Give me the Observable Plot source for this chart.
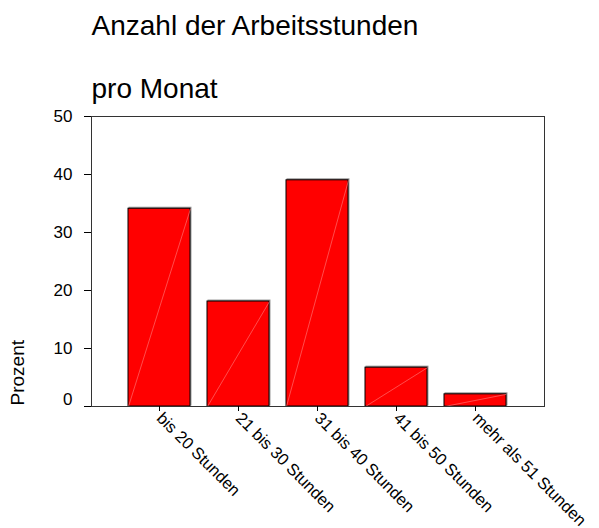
<!DOCTYPE html>
<html>
<head>
<meta charset="utf-8">
<script src="https://cdn.jsdelivr.net/npm/d3@7"></script>
<script src="https://cdn.jsdelivr.net/npm/@observablehq/plot@0.6"></script>
<style>
  html, body { margin: 0; padding: 0; background: #fff; }
  #chart svg { font-family: "Liberation Sans", Arial, sans-serif; }
</style>
</head>
<body>
<div id="chart"></div>
<script>
const categories = ["bis 20 Stunden", "21 bis 30 Stunden", "31 bis 40 Stunden", "41 bis 50 Stunden", "mehr als 51 Stunden"];
const percents = [34.1, 18.1, 39.0, 6.7, 2.1];
const yTicks = [10, 20, 30, 40, 50];
const yZeroTick = [0];
const titleLines = ["Anzahl der Arbeitsstunden", "pro Monat"];
const yLabel = "Prozent";

const data = categories.map((c, i) => ({category: c, value: percents[i]}));

const diagonal = (index, scales, values, dims, ctx, next) => {
  const bw = scales.x.bandwidth ? scales.x.bandwidth() : 0;
  const x1 = Float64Array.from(values.x1, v => v - bw / 2);
  const x2 = Float64Array.from(values.x2, v => v + bw / 2);
  return next(index, scales, {...values, x1, x2}, dims, ctx);
};

const chart = Plot.plot({
  width: 599,
  height: 528,
  marginLeft: 91,
  marginRight: 55,
  marginTop: 116,
  marginBottom: 122,
  style: {fontFamily: "'Liberation Sans', Arial, sans-serif", fontSize: "17px", color: "#000", background: "#fff"},
  x: {domain: categories, paddingInner: 0.21, paddingOuter: 0.4425, label: null},
  y: {domain: [0, 50], label: null},
  marks: [
    Plot.barY(data, {x: "category", y: "value", fill: "#9a9a9a", stroke: "#9a9a9a", dx: 1, dy: -1}),
    Plot.barY(data, {x: "category", y: "value", fill: "#ff0000", stroke: "#000", strokeWidth: 1}),
    Plot.link(data, {x1: "category", x2: "category", y1: 0, y2: "value", stroke: "#ff8080", strokeWidth: 0.6, render: diagonal}),
    Plot.frame({stroke: "#333"}),
    Plot.axisY(yTicks, {tickSize: 7, tickPadding: 12, fontSize: 17, label: null}),
    Plot.axisY(yZeroTick, {tickSize: 7, tickPadding: 12, fontSize: 17, label: null, text: null}),
    Plot.text(yZeroTick, {y: d => d, frameAnchor: "left", dx: -19, dy: -7, text: d => String(d), textAnchor: "end", fontSize: 17}),
    Plot.axisX({tickSize: 5, tickRotate: 45, textAnchor: "start", fontSize: 16.5, tickPadding: 4, label: null}),
    Plot.text([yLabel], {frameAnchor: "bottom-left", dx: -68, dy: -1, rotate: -90, textAnchor: "start", fontSize: 19}),
    Plot.text([titleLines[0]], {frameAnchor: "top-left", dy: -82, textAnchor: "start", lineAnchor: "bottom", fontSize: 28}),
    Plot.text([titleLines[1]], {frameAnchor: "top-left", dy: -19, textAnchor: "start", lineAnchor: "bottom", fontSize: 28})
  ]
});
document.getElementById("chart").appendChild(chart);
</script>
</body>
</html>
